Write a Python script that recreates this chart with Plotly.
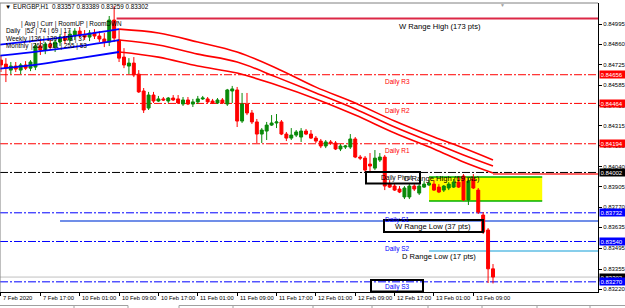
import plotly.graph_objects as go

# ---------------- data (EURGBP, H1) ----------------
bar_index = list(range(101))   # 0 = 7 Feb 2020 09:00, one bar per hour

open_p = [0.84754, 0.84727, 0.84687, 0.84714, 0.84687, 0.84721, 0.84700, 0.84707, 0.84848, 0.84821,
          0.84861, 0.84841, 0.84875, 0.84908, 0.84888, 0.84921, 0.84948, 0.84921, 0.84908, 0.84935,
          0.84915, 0.84895, 0.84875, 0.85022, 0.84888, 0.84774, 0.84714, 0.84734, 0.84660, 0.84547,
          0.84433, 0.84520, 0.84480, 0.84494, 0.84480, 0.84500, 0.84494, 0.84460, 0.84487, 0.84460,
          0.84474, 0.84494, 0.84494, 0.84480, 0.84467, 0.84487, 0.84460, 0.84547, 0.84554, 0.84346,
          0.84460, 0.84400, 0.84340, 0.84259, 0.84279, 0.84319, 0.84333, 0.84340, 0.84259, 0.84232,
          0.84252, 0.84239, 0.84279, 0.84259, 0.84232, 0.84212, 0.84179, 0.84206, 0.84199, 0.84159,
          0.84172, 0.84172, 0.84226, 0.84105, 0.84098, 0.84058, 0.84031, 0.84085, 0.84105, 0.83924,
          0.83911, 0.83891, 0.83838, 0.83838, 0.83911, 0.83864, 0.83904, 0.83918, 0.83924, 0.83904,
          0.83884, 0.83898, 0.83904, 0.83938, 0.83978, 0.83818, 0.83958, 0.83884, 0.83717, 0.83617,
          0.83357]
high_p = [0.84781, 0.84767, 0.84741, 0.84741, 0.84734, 0.84747, 0.84754, 0.84868, 0.84888, 0.84875,
          0.84901, 0.84901, 0.84928, 0.84942, 0.84955, 0.84968, 0.84975, 0.84955, 0.84955, 0.84961,
          0.84948, 0.84935, 0.85049, 0.85116, 0.84955, 0.84834, 0.84767, 0.84774, 0.84687, 0.84567,
          0.84541, 0.84541, 0.84514, 0.84507, 0.84507, 0.84520, 0.84520, 0.84507, 0.84507, 0.84494,
          0.84514, 0.84514, 0.84507, 0.84494, 0.84500, 0.84500, 0.84561, 0.84581, 0.84574, 0.84534,
          0.84534, 0.84420, 0.84360, 0.84299, 0.84340, 0.84386, 0.84393, 0.84353, 0.84273, 0.84299,
          0.84286, 0.84299, 0.84293, 0.84286, 0.84246, 0.84226, 0.84219, 0.84219, 0.84212, 0.84192,
          0.84186, 0.84259, 0.84239, 0.84119, 0.84112, 0.84132, 0.84152, 0.84132, 0.84119, 0.83951,
          0.83931, 0.83911, 0.83911, 0.83924, 0.83924, 0.83924, 0.83944, 0.83951, 0.83951, 0.83924,
          0.83918, 0.83938, 0.83958, 0.83971, 0.83991, 0.83965, 0.83991, 0.83898, 0.83737, 0.83630,
          0.83389]
low_p = [0.84674, 0.84607, 0.84660, 0.84674, 0.84660, 0.84687, 0.84680, 0.84687, 0.84788, 0.84794,
         0.84821, 0.84808, 0.84848, 0.84861, 0.84868, 0.84888, 0.84901, 0.84888, 0.84881, 0.84895,
         0.84875, 0.84841, 0.84848, 0.84875, 0.84741, 0.84700, 0.84660, 0.84640, 0.84534, 0.84400,
         0.84420, 0.84467, 0.84474, 0.84480, 0.84467, 0.84480, 0.84460, 0.84447, 0.84453, 0.84440,
         0.84460, 0.84487, 0.84467, 0.84460, 0.84460, 0.84460, 0.84447, 0.84467, 0.84306, 0.84333,
         0.84386, 0.84326, 0.84199, 0.84199, 0.84219, 0.84313, 0.84299, 0.84252, 0.84212, 0.84219,
         0.84239, 0.84206, 0.84252, 0.84226, 0.84199, 0.84165, 0.84165, 0.84186, 0.84152, 0.84145,
         0.84159, 0.84159, 0.84098, 0.84085, 0.84005, 0.83998, 0.84018, 0.84072, 0.83884, 0.83898,
         0.83878, 0.83864, 0.83824, 0.83824, 0.83878, 0.83851, 0.83898, 0.83911, 0.83878, 0.83864,
         0.83871, 0.83884, 0.83898, 0.83898, 0.83811, 0.83784, 0.83891, 0.83724, 0.83590, 0.83262,
         0.83259]
close_p = [0.84721, 0.84700, 0.84714, 0.84694, 0.84721, 0.84700, 0.84741, 0.84848, 0.84821, 0.84861,
           0.84841, 0.84875, 0.84908, 0.84888, 0.84928, 0.84948, 0.84921, 0.84908, 0.84935, 0.84915,
           0.84895, 0.84875, 0.85022, 0.84901, 0.84767, 0.84721, 0.84734, 0.84654, 0.84541, 0.84420,
           0.84520, 0.84480, 0.84494, 0.84487, 0.84500, 0.84487, 0.84467, 0.84487, 0.84460, 0.84474,
           0.84494, 0.84500, 0.84474, 0.84467, 0.84487, 0.84467, 0.84554, 0.84561, 0.84346, 0.84460,
           0.84400, 0.84340, 0.84259, 0.84286, 0.84319, 0.84333, 0.84340, 0.84259, 0.84232, 0.84252,
           0.84273, 0.84279, 0.84259, 0.84232, 0.84212, 0.84179, 0.84206, 0.84199, 0.84159, 0.84179,
           0.84179, 0.84226, 0.84105, 0.84098, 0.84018, 0.84045, 0.84098, 0.84105, 0.83911, 0.83904,
           0.83884, 0.83871, 0.83898, 0.83911, 0.83891, 0.83911, 0.83924, 0.83931, 0.83884, 0.83871,
           0.83911, 0.83924, 0.83938, 0.83904, 0.83818, 0.83944, 0.83898, 0.83737, 0.83603, 0.83357,
           0.83302]

time_tick_bars = [0, 8, 16, 24, 32, 40, 48, 56, 64, 72, 80, 88, 96]
time_tick_labels = ["7 Feb 2020", "7 Feb 17:00", "10 Feb 01:00", "10 Feb 09:00", "10 Feb 17:00",
                    "11 Feb 01:00", "11 Feb 09:00", "11 Feb 17:00", "12 Feb 01:00", "12 Feb 09:00",
                    "12 Feb 17:00", "13 Feb 01:00", "13 Feb 09:00"]

price_ticks = [0.84995, 0.84860, 0.84725, 0.84585, 0.84450, 0.84315, 0.84180,
               0.84040, 0.83905, 0.83770, 0.83635, 0.83495, 0.83355, 0.83220]

# moving-average envelope (blue while rising, red while falling)
env_blue_bars = [-1, 8, 16, 24]
env_blue_upper = [0.84855, 0.84888, 0.84921, 0.84961]
env_blue_mid = [0.84781, 0.84814, 0.84848, 0.84888]
env_blue_lower = [0.84694, 0.84727, 0.84767, 0.84808]

env_red_bars = [24, 32, 40, 48, 56, 64, 72, 80, 88, 94, 100]
env_red_upper = [0.84961, 0.84935, 0.84875, 0.84808, 0.84700, 0.84573, 0.84467, 0.84346, 0.84239, 0.84165, 0.84085]
env_red_mid = [0.84888, 0.84855, 0.84794, 0.84741, 0.84640, 0.84534, 0.84427, 0.84306, 0.84199, 0.84119, 0.84045]
env_red_lower = [0.84808, 0.84774, 0.84714, 0.84667, 0.84587, 0.84494, 0.84386, 0.84266, 0.84159, 0.84072, 0.83998]

pivot_names = ["Daily R3", "Daily R2", "Daily R1", "Daily Pivot", "Daily S1", "Daily S2", "Daily S3"]
pivot_prices = [0.84656, 0.84464, 0.84194, 0.84002, 0.83732, 0.83540, 0.83270]

w_range_high, w_range_high_pts, w_range_high_from = 0.85032, 173, 23.5
w_range_low, w_range_low_pts, w_range_low_from = 0.83677, 37, 12
d_range_high, d_range_high_pts = 0.83992, 69
d_range_low, d_range_low_pts = 0.83476, 17
d_zone_top, d_zone_bottom = 0.83971, 0.83811
d_zone_from, d_zone_to = 87, 110
bid_price = 0.83302
last_ohlc = [0.83357, 0.83389, 0.83259, 0.83302]

table_rows = ["Daily", "Weekly", "Monthly"]
table_avg = [52, 136, 260]
table_curr = [74, 139, 211]
table_up = [69, 173, 255]
table_dwn = [17, 37, 53]

# ---------------- styling / layout ----------------
X_RANGE = [-0.2, 121.34]
Y_RANGE = [0.83202, 0.85136]
W, H = 625, 308
ML, MR, MT, MB = 0, 27, 3, 16
PW, PH = W - ML - MR, H - MT - MB
FONT = "Liberation Sans, Arial, sans-serif"
RED, BLUE, BLACK = "#FF0000", "#0000FF", "#000000"
DASHDOT = "8px,2px,2px,2px"


def px(x):
    return (x - ML) / PW


def py(y):
    return (MT + PH - y) / PH


fig = go.Figure()

fig.add_trace(go.Candlestick(
    x=bar_index, open=open_p, high=high_p, low=low_p, close=close_p,
    increasing=dict(line=dict(color="#0a8a0a", width=1), fillcolor="#0a8a0a"),
    decreasing=dict(line=dict(color=RED, width=1), fillcolor=RED),
    whiskerwidth=0, showlegend=False, hoverinfo="skip"))

for ys in (env_blue_upper, env_blue_mid, env_blue_lower):
    fig.add_trace(go.Scatter(x=env_blue_bars, y=ys, mode="lines", showlegend=False, hoverinfo="skip",
                             line=dict(color=BLUE, width=1.8, shape="spline")))
for ys in (env_red_upper, env_red_mid, env_red_lower):
    fig.add_trace(go.Scatter(x=env_red_bars, y=ys, mode="lines", showlegend=False, hoverinfo="skip",
                             line=dict(color=RED, width=1.6, shape="spline")))

shapes = []
# D range zone
shapes.append(dict(type="rect", xref="x", yref="y", x0=d_zone_from, x1=d_zone_to,
                   y0=d_zone_bottom, y1=d_zone_top, fillcolor="#FFFF00", line=dict(width=0), layer="below"))
for yv in (d_zone_top, d_zone_bottom):
    shapes.append(dict(type="line", xref="x", yref="y", x0=d_zone_from, x1=d_zone_to, y0=yv, y1=yv,
                       line=dict(color="#00B000", width=1.5), layer="below"))
# pivots
for name, pr in zip(pivot_names, pivot_prices):
    tag = name.split()[-1]
    col = RED if tag.startswith("R") else (BLUE if tag.startswith("S") else BLACK)
    shapes.append(dict(type="line", xref="paper", yref="y", x0=0, x1=1, y0=pr, y1=pr,
                       line=dict(color=col, width=1, dash=DASHDOT), layer="below"))
# ranges
shapes.append(dict(type="line", xref="x", yref="y", x0=w_range_high_from, x1=X_RANGE[1],
                   y0=w_range_high, y1=w_range_high, line=dict(color="#DC2846", width=2), layer="below"))
shapes.append(dict(type="line", xref="x", yref="y", x0=w_range_low_from, x1=X_RANGE[1],
                   y0=w_range_low, y1=w_range_low, line=dict(color="#4169E1", width=1.5), layer="below"))
shapes.append(dict(type="line", xref="x", yref="y", x0=bar_index[-1], x1=X_RANGE[1],
                   y0=d_range_high, y1=d_range_high, line=dict(color="#FF3030", width=1.5), layer="below"))
shapes.append(dict(type="line", xref="x", yref="y", x0=d_zone_from, x1=X_RANGE[1],
                   y0=d_range_low, y1=d_range_low, line=dict(color="#87CEEB", width=2), layer="below"))
shapes.append(dict(type="line", xref="paper", yref="y", x0=0, x1=1, y0=bid_price, y1=bid_price,
                   line=dict(color="#C0C0C0", width=1), layer="below"))
# frame (top / left)
shapes.append(dict(type="line", xref="paper", yref="paper", x0=0, x1=1, y0=1, y1=1,
                   line=dict(color="#808080", width=1)))
shapes.append(dict(type="line", xref="paper", yref="paper", x0=0, x1=0, y0=0, y1=1,
                   line=dict(color="#808080", width=1)))
# label boxes (transparent, black border)
for (bx0, by0, bx1, by1) in [(366, 172, 420, 183.5), (384, 220, 483, 232), (371, 280, 423, 291.5)]:
    shapes.append(dict(type="rect", xref="paper", yref="paper", x0=px(bx0), x1=px(bx1),
                       y0=py(by1), y1=py(by0), line=dict(color=BLACK, width=2), fillcolor="rgba(0,0,0,0)"))
# bottom tab strip
shapes.append(dict(type="line", xref="paper", yref="paper", x0=px(0), x1=px(128), y0=py(305.5), y1=py(305.5),
                   line=dict(color="#A0A0A0", width=1)))
shapes.append(dict(type="line", xref="paper", yref="paper", x0=px(179), x1=px(625), y0=py(305.5), y1=py(305.5),
                   line=dict(color="#A0A0A0", width=1)))
for sx in (74, 128, 179, 233, 313, 372, 428, 482, 537, 590):
    shapes.append(dict(type="line", xref="paper", yref="paper", x0=px(sx), x1=px(sx), y0=py(305.5), y1=py(308),
                       line=dict(color="#A0A0A0", width=1)))

ann = []


def text(x, y, s, size=6.5, color=BLACK, xanchor="left", yanchor="middle"):
    ann.append(dict(xref="paper", yref="paper", x=px(x), y=py(y), text=s, showarrow=False,
                    xanchor=xanchor, yanchor=yanchor, font=dict(family=FONT, size=size, color=color)))


NB = "\u00a0"
# header
text(3, 6, "\u25bc" + NB + "EURGBP,H1" + NB * 2 + " ".join(f"{v:.5f}" for v in last_ohlc), size=6.3)
text(502, 5, "\u25bc", size=5, color="#A0A0A0", xanchor="center")
# range table
text(19, 24, "|" + NB + "Avg" + NB + "|" + NB + "Curr" + NB + "|" + NB + "RoomUP" + NB + "|" + NB + "RoomDWN", size=6.4)
row_y = [31.5, 39, 46.5]
row_x = [23, 27, 29]
for name, a, c, u, d, yy, xx in zip(table_rows, table_avg, table_curr, table_up, table_dwn, row_y, row_x):
    text(4, yy, name, size=6.4)
    text(xx, yy, f"|{a}{NB}|{NB}{c}{NB}|{NB}{u}{NB}|{NB}{d}", size=6.4)

# pivot labels below their lines
for name, pr in zip(pivot_names, pivot_prices):
    if name in ("Daily Pivot", "Daily S3"):
        continue
    col = RED if name.split()[-1].startswith("R") else BLUE
    ann.append(dict(xref="paper", yref="y", x=px(383), y=pr, yshift=-1.5, text=name, showarrow=False,
                    xanchor="left", yanchor="top", font=dict(family=FONT, size=6.5, color=col)))
text(379, 177.8, "Daily Pivot", size=6.6)
text(383, 286.5, "Daily S3", size=6.5, color=BLUE)

ann.append(dict(xref="paper", yref="y", x=px(397), y=w_range_high, yshift=-1, showarrow=False,
                text=f"W Range High ({w_range_high_pts} pts)", xanchor="left", yanchor="top",
                font=dict(family=FONT, size=7.6, color=BLACK)))
text(402, 178, f"D Range High ({d_range_high_pts} pts)", size=7.6)
text(432.5, 226.5, f"W Range Low ({w_range_low_pts} pts)", size=7.6, xanchor="center")
text(400, 256, f"D Range Low ({d_range_low_pts} pts)", size=7.6)

# time labels
for b, lab in zip(time_tick_bars, time_tick_labels):
    ann.append(dict(xref="x", yref="paper", x=b, y=py(298), xshift=0.5, text=lab, showarrow=False,
                    xanchor="left", yanchor="middle", font=dict(family=FONT, size=5.8, color=BLACK)))

# price tags at the right axis
tag_specs = [(pivot_prices[0], RED), (pivot_prices[1], RED), (pivot_prices[2], RED),
             (pivot_prices[3], BLACK), (pivot_prices[4], BLUE), (pivot_prices[5], BLUE),
             (bid_price, BLACK), (pivot_prices[6], BLUE)]
for pr, col in tag_specs:
    ann.append(dict(xref="paper", yref="y", x=1, y=pr, xshift=1, text=f"{pr:.5f}", showarrow=False,
                    xanchor="left", yanchor="middle", bgcolor=col, borderpad=0.5, width=25, align="left",
                    font=dict(family=FONT, size=6, color="#FFFFFF")))

fig.update_layout(
    width=W, height=H, margin=dict(l=ML, r=MR, t=MT, b=MB, pad=0),
    paper_bgcolor="white", plot_bgcolor="white", showlegend=False, hovermode=False,
    shapes=shapes, annotations=ann, boxgap=0.4, boxgroupgap=0,
    xaxis=dict(range=X_RANGE, showgrid=False, zeroline=False, showline=True, linecolor=BLACK, linewidth=1,
               tickvals=time_tick_bars, ticks="outside", ticklen=3, tickcolor=BLACK, showticklabels=False,
               rangeslider=dict(visible=False), fixedrange=True),
    yaxis=dict(range=Y_RANGE, side="right", showgrid=False, zeroline=False, showline=True, linecolor=BLACK,
               linewidth=1, tickvals=price_ticks, ticktext=[f"{v:.5f}" for v in price_ticks],
               ticks="outside", ticklen=3, tickcolor=BLACK, tickfont=dict(family=FONT, size=6, color=BLACK),
               fixedrange=True),
)

fig.write_html("out.html", config={"displayModeBar": False, "staticPlot": True})
